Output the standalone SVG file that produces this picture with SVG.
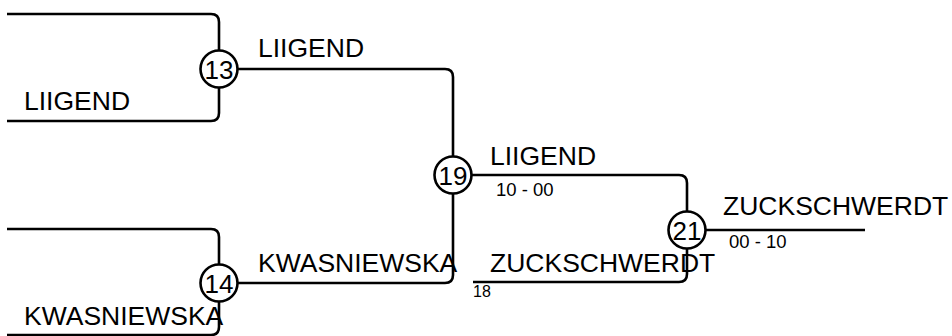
<svg xmlns="http://www.w3.org/2000/svg" width="952" height="336" viewBox="0 0 952 336">
<style>
.ln{fill:none;stroke:#000;stroke-width:2.6}
.nd{fill:#fff;stroke:#000;stroke-width:2.6}
.num{font-family:"Liberation Sans",Arial,sans-serif;font-size:26px;text-anchor:middle;fill:#000}
.lb{font-family:"Liberation Sans",Arial,sans-serif;font-size:26.5px;fill:#000}
.sc{font-family:"Liberation Sans",Arial,sans-serif;font-size:18.5px;fill:#000}
.sm{font-family:"Liberation Sans",Arial,sans-serif;font-size:16px;fill:#000}
</style>
<rect width="952" height="336" fill="#fff"/>
<g id="connectors">
<path class="ln" d="M7,14 H211 Q219,14 219,22 V113 Q219,121 211,121 H7"/>
<path class="ln" d="M7,229 H211 Q219,229 219,237 V327 Q219,335 211,335 H7"/>
<path class="ln" d="M219,69 H445 Q453,69 453,77 V175"/>
<path class="ln" d="M219,283 H445 Q453,283 453,275 V175"/>
<path class="ln" d="M453,175 H679 Q687,175 687,183 V230"/>
<path class="ln" d="M473,282 H679 Q687,282 687,274 V230"/>
<path class="ln" d="M687,230 H865"/>
</g>
<g id="labels">
<text class="lb" x="24" y="110">LIIGEND</text>
<text class="lb" x="258" y="57">LIIGEND</text>
<text class="lb" x="24" y="325">KWASNIEWSKA</text>
<text class="lb" x="258" y="272">KWASNIEWSKA</text>
<text class="lb" x="490" y="165">LIIGEND</text>
<text class="sc" x="496" y="196">10 - 00</text>
<text class="lb" x="490" y="272">ZUCKSCHWERDT</text>
<text class="sm" x="473" y="297">18</text>
<text class="lb" x="723" y="215">ZUCKSCHWERDT</text>
<text class="sc" x="729" y="248">00 - 10</text>
</g>
<g id="node13"><circle class="nd" cx="219" cy="69" r="18.5"/><text class="num" x="219" y="78.5">13</text></g>
<g id="node14"><circle class="nd" cx="219" cy="283" r="18.5"/><text class="num" x="219" y="292.5">14</text></g>
<g id="node19"><circle class="nd" cx="453" cy="175" r="18.5"/><text class="num" x="453" y="184.5">19</text></g>
<g id="node21"><circle class="nd" cx="687" cy="230" r="18.5"/><text class="num" x="687" y="239.5">21</text></g>
</svg>
